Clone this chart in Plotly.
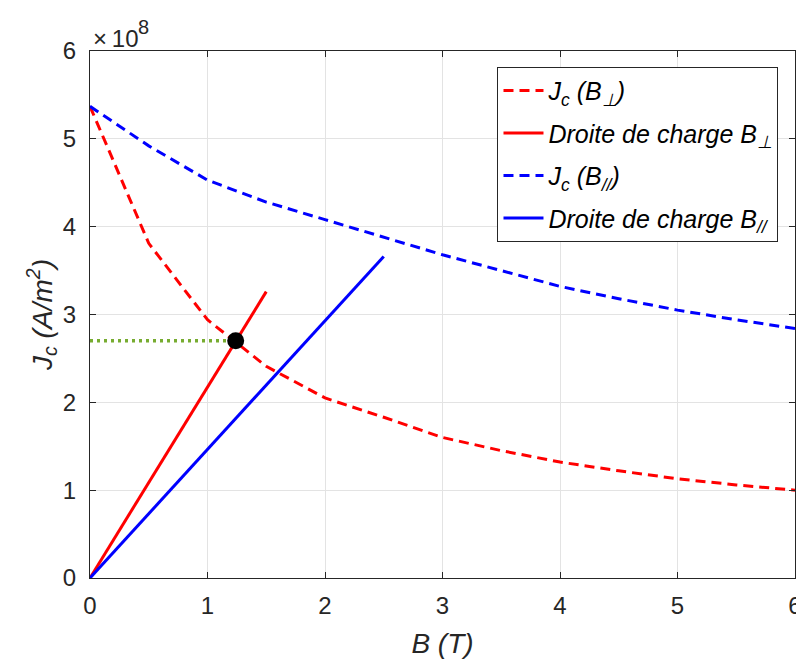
import plotly.graph_objects as go

# Data
B = [0, 0.5, 1.0, 1.5, 2.0, 2.5, 3.0, 3.5, 4.0, 4.5, 5.0, 5.5, 6.0]
Jc_perp = [5.37e8, 3.81e8, 2.94e8, 2.41e8, 2.05e8, 1.83e8, 1.60e8, 1.45e8, 1.32e8, 1.22e8, 1.13e8, 1.06e8, 1.00e8]
Jc_par = [5.37e8, 4.92e8, 4.53e8, 4.28e8, 4.08e8, 3.88e8, 3.68e8, 3.50e8, 3.32e8, 3.18e8, 3.05e8, 2.94e8, 2.84e8]

load_perp_B = [0, 1.5]
load_perp_J = [0, 3.26e8]
load_par_B = [0, 2.5]
load_par_J = [0, 3.66e8]

op_B = [1.24]
op_J = [2.70e8]
guide_B = [0, 1.24]
guide_J = [2.70e8, 2.70e8]

x_ticks = [0, 1, 2, 3, 4, 5, 6]
y_ticks = [0, 1e8, 2e8, 3e8, 4e8, 5e8, 6e8]
y_ticktext = ["0", "1", "2", "3", "4", "5", "6"]

FONT = "Liberation Sans, Arial, sans-serif"
AX = "#262626"

fig = go.Figure()
fig.add_trace(go.Scatter(x=B, y=Jc_perp, mode="lines", legendgroup="a",
                         line=dict(color="#ff0000", width=3, dash="10px,6px"),
                         name="<i>J<sub>c</sub> (B<sub>⊥</sub>)</i>"))
fig.add_trace(go.Scatter(x=load_perp_B, y=load_perp_J, mode="lines", legendgroup="b",
                         line=dict(color="#ff0000", width=3),
                         name="<i>Droite de charge B<sub>⊥</sub></i>"))
fig.add_trace(go.Scatter(x=B, y=Jc_par, mode="lines", legendgroup="c",
                         line=dict(color="#0000ff", width=3, dash="10px,6px"),
                         name="<i>J<sub>c</sub> (B<sub>//</sub>)</i>"))
fig.add_trace(go.Scatter(x=load_par_B, y=load_par_J, mode="lines", legendgroup="d",
                         line=dict(color="#0000ff", width=3),
                         name="<i>Droite de charge B<sub>//</sub></i>"))
fig.add_trace(go.Scatter(x=guide_B, y=guide_J, mode="lines",
                         line=dict(color="#77ac30", width=3.5, dash="3px,4px"),
                         showlegend=False))
fig.add_trace(go.Scatter(x=op_B, y=op_J, mode="markers",
                         marker=dict(color="black", size=17),
                         showlegend=False))

# page body has an 8px margin, so the figure is sized/offset to compensate
fig.update_layout(
    width=796, height=651,
    margin=dict(l=82, r=9, t=43, b=81, autoexpand=False),
    plot_bgcolor="white", paper_bgcolor="white",
    font=dict(family=FONT, size=23, color=AX),
    showlegend=True,
    legend=dict(x=0.578, y=0.97, xanchor="left", yanchor="top",
                bgcolor="white", bordercolor=AX, borderwidth=1,
                font=dict(family=FONT, size=25, color="black"),
                tracegroupgap=7, itemwidth=40),
    annotations=[
        dict(text="×\u200910", xref="paper", yref="paper",
             x=0, y=1, xanchor="left", yanchor="bottom", xshift=1, yshift=-3,
             showarrow=False, font=dict(family=FONT, size=24, color=AX)),
        dict(text="8", xref="paper", yref="paper",
             x=0, y=1, xanchor="left", yanchor="bottom", xshift=46, yshift=11,
             showarrow=False, font=dict(family=FONT, size=20, color=AX)),
    ],
)
fig.update_xaxes(range=[0, 6], tickvals=x_ticks, showgrid=True, gridcolor="#e3e3e3",
                 showline=True, linecolor=AX, linewidth=1, mirror="ticks",
                 ticks="inside", ticklen=6, tickcolor=AX, zeroline=False, automargin=False,
                 ticklabelstandoff=6,
                 title=dict(text="<i>B (T)</i>", font=dict(size=28, color=AX), standoff=23),
                 tickfont=dict(size=24, color=AX))
fig.update_yaxes(range=[0, 6e8], tickvals=y_ticks, ticktext=y_ticktext, showgrid=True,
                 gridcolor="#e3e3e3", showline=True, linecolor=AX, linewidth=1,
                 mirror="ticks", ticks="inside", ticklen=6, tickcolor=AX, zeroline=False,
                 automargin=False, ticklabelstandoff=8,
                 title=dict(text="<i>J<sub>c</sub> (A/m<sup>2</sup>)</i>", font=dict(size=28, color=AX), standoff=2),
                 tickfont=dict(size=24, color=AX))

fig.write_html("out.html")
